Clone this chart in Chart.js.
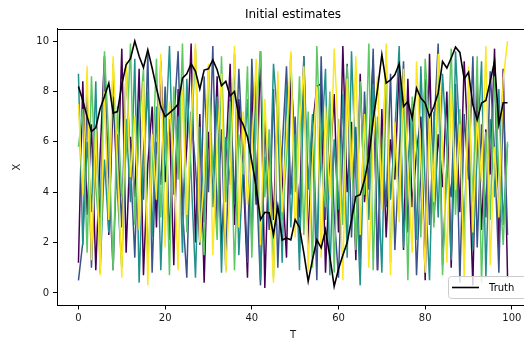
<!DOCTYPE html>
<html lang="en">
<head>
    <meta charset="UTF-8">
    <title>Initial estimates</title>
    <style>
        body {
            margin: 0;
            overflow: hidden;
            background-color: #ffffff;
        }
        #estChart {
            display: block;
        }
    </style>
</head>
<body>
    <canvas id="estChart" width="586" height="345"></canvas>

    <script src="https://cdn.jsdelivr.net/npm/chart.js"></script>
    <script>
        // Data: the true trajectory and five initial estimates, one value per step T
        const truth = [
            8.2, 7.64, 7.0, 6.41, 6.57, 7.31, 7.8, 8.33, 7.14, 7.2,
            8.27, 9.06, 9.3, 10.0, 9.4, 8.95, 9.65, 8.93, 8.13, 7.4,
            7.0, 7.15, 7.3, 7.5, 8.53, 8.7, 9.1, 8.8, 8.1, 8.85,
            8.9, 9.25, 8.86, 8.23, 8.4, 7.82, 8.0, 7.0, 6.68, 6.19,
            5.22, 4.2, 2.91, 3.2, 3.18, 2.31, 3.44, 2.1, 2.18, 2.11,
            2.91, 2.6, 1.59, 0.46, 1.32, 2.11, 1.79, 2.51, 1.45, 0.26,
            0.95, 1.5, 2.0, 2.91, 3.83, 3.9, 4.48, 5.36, 6.88, 8.07,
            9.46, 8.33, 8.46, 8.66, 9.1, 7.4, 7.6, 6.94, 8.13, 7.74,
            7.54, 7.0, 7.4, 7.94, 9.19, 8.93, 9.33, 9.76, 9.55, 8.5,
            8.76, 7.47, 6.87, 7.54, 7.64, 8.4, 9.2, 6.7, 7.55, 7.55
        ];
        const estPurple = [
            1.2, 8.4, 3.1, 6.7, 0.9, 5.5, 9.4, 2.3, 7.8, 4.1,
            9.7, 1.6, 6.2, 3.8, 8.9, 0.7, 5.1, 7.4, 2.6, 9.2,
            4.4, 6.9, 1.1, 8.1, 3.3, 5.8, 9.9, 2.0, 7.1, 0.4,
            6.4, 3.9, 8.6, 1.8, 5.3, 9.1, 2.7, 7.7, 4.8, 0.6,
            8.3, 3.5, 9.6, 0.2, 6.0, 2.9, 7.5, 4.6, 1.4, 8.8,
            5.7, 3.0, 9.4, 1.9, 6.6, 8.2, 8.3, 0.8, 5.0, 7.9,
            2.4, 9.8, 4.0, 6.8, 1.3, 8.7, 3.6, 5.9, 9.3, 0.9,
            7.3, 2.2, 6.1, 4.5, 9.0, 1.7, 8.5, 3.4, 5.6, 7.0,
            0.5, 9.5, 2.8, 6.3, 4.2, 8.0, 1.0, 7.6, 3.2, 9.2,
            5.4, 0.3, 8.4, 2.5, 6.5, 4.7, 9.7, 1.5, 8.9, 0.6
        ];
        const estBlue = [
            0.5, 2.0, 7.9, 1.0, 5.8, 3.0, 8.8, 4.6, 0.9, 6.3,
            2.6, 9.0, 5.2, 1.4, 7.6, 3.7, 9.5, 0.8, 6.0, 4.3,
            8.2, 2.1, 6.8, 9.6, 3.3, 0.6, 7.2, 5.0, 1.9, 8.6,
            4.0, 9.8, 2.8, 6.5, 0.9, 7.9, 3.5, 8.9, 5.4, 1.2,
            9.3, 4.8, 0.3, 6.9, 2.5, 8.1, 1.0, 5.7, 9.0, 3.9,
            7.0, 1.6, 8.4, 4.4, 6.2, 0.5, 9.4, 2.9, 7.5, 3.1,
            0.6, 5.9, 9.1, 2.2, 6.6, 1.3, 8.0, 4.1, 9.7, 0.9,
            6.1, 3.4, 8.7, 1.7, 5.5, 9.2, 2.4, 7.3, 0.7, 4.9,
            8.5, 2.7, 6.4, 9.9, 1.1, 5.1, 3.8, 8.3, 0.4, 7.1,
            4.5, 9.4, 1.8, 6.7, 3.0, 8.8, 5.6, 0.8, 7.8, 2.3
        ];
        const estTeal = [
            8.7, 1.9, 6.0, 3.2, 8.4, 0.8, 5.3, 2.4, 9.1, 4.0,
            1.0, 6.9, 3.6, 9.3, 0.4, 5.6, 8.0, 2.2, 7.4, 0.9,
            5.9, 9.8, 3.9, 7.0, 1.6, 8.5, 4.7, 0.6, 6.6, 2.8,
            9.0, 3.4, 7.8, 0.8, 6.2, 4.3, 9.5, 1.5, 5.0, 7.7,
            2.0, 8.8, 0.5, 5.4, 3.1, 9.1, 6.8, 1.2, 8.2, 2.6,
            6.3, 0.9, 9.4, 4.1, 7.1, 2.0, 5.7, 8.9, 0.7, 6.1,
            3.3, 7.9, 1.4, 9.6, 4.6, 0.3, 6.7, 2.9, 8.3, 5.2,
            0.8, 8.6, 3.7, 6.4, 9.8, 1.8, 5.1, 7.5, 2.1, 9.0,
            4.2, 0.5, 7.2, 3.0, 8.7, 5.8, 1.3, 9.6, 6.0, 2.5,
            7.6, 1.7, 5.5, 9.2, 0.6, 6.9, 3.8, 8.1, 2.7, 5.9
        ];
        const estGreen = [
            5.8, 7.3, 1.6, 8.6, 4.2, 2.0, 9.6, 6.1, 0.9, 7.4,
            3.8, 5.5, 9.9, 2.7, 6.7, 8.9, 1.1, 4.9, 9.3, 3.0,
            7.1, 0.7, 8.2, 4.5, 9.9, 2.4, 6.0, 9.7, 3.3, 1.5,
            8.4, 5.0, 2.1, 9.4, 3.6, 7.6, 0.9, 6.3, 4.7, 9.0,
            1.4, 7.0, 9.6, 3.8, 6.5, 0.6, 8.3, 2.9, 5.3, 9.5,
            4.0, 8.6, 2.3, 7.2, 1.0, 9.8, 5.2, 3.4, 8.0, 0.8,
            6.9, 2.7, 9.0, 5.6, 1.7, 8.4, 3.9, 9.9, 0.9, 7.0,
            4.4, 9.6, 1.2, 6.2, 3.5, 8.1, 0.5, 7.8, 5.9, 2.2,
            9.3, 6.6, 2.6, 8.8, 0.7, 5.0, 9.7, 3.1, 7.3, 1.4,
            8.0, 3.6, 9.4, 0.4, 6.4, 2.9, 8.6, 4.8, 1.9, 6.0
        ];
        const estYellow = [
            7.5, 3.9, 9.0, 1.3, 6.5, 0.7, 8.0, 2.9, 9.4, 5.1,
            0.6, 9.2, 4.6, 7.0, 2.5, 8.4, 0.3, 6.3, 3.7, 9.5,
            1.8, 7.6, 5.2, 0.9, 8.1, 3.1, 6.9, 9.9, 2.0, 4.8,
            9.1, 1.5, 6.0, 8.7, 0.8, 4.3, 9.8, 2.6, 7.2, 3.5,
            5.6, 9.3, 1.9, 7.7, 4.0, 0.4, 8.8, 3.2, 6.1, 9.6,
            2.2, 6.6, 9.0, 0.9, 5.4, 8.2, 1.4, 7.4, 3.8, 9.7,
            6.2, 0.5, 8.5, 4.5, 9.4, 2.3, 7.1, 1.0, 5.9, 8.6,
            3.3, 9.9, 0.7, 6.8, 2.8, 8.9, 4.9, 1.6, 9.2, 5.3,
            0.8, 7.3, 3.6, 9.5, 5.7, 1.2, 8.1, 4.1, 6.7, 0.5,
            9.0, 2.4, 7.0, 4.4, 9.8, 1.1, 5.8, 3.0, 8.5, 10.0
        ];
        const T = truth.map((_, i) => i);
        const xTicks = [0, 20, 40, 60, 80, 100];
        const yTicks = [0, 2, 4, 6, 8, 10];

        // viridis colours, dark to light; yellow ends up drawn on top
        const estimates = [
            { data: estYellow, color: '#fde725' },
            { data: estGreen, color: '#5ec962' },
            { data: estTeal, color: '#21918c' },
            { data: estBlue, color: '#3b528b' },
            { data: estPurple, color: '#440154' }
        ];

        const toPoints = arr => arr.map((v, i) => ({ x: T[i], y: v }));

        const datasets = [{
            label: 'Truth',
            data: toPoints(truth),
            borderColor: '#000000',
            borderWidth: 1.6
        }].concat(estimates.map(e => ({
            label: '',
            data: toPoints(e.data),
            borderColor: e.color,
            borderWidth: 1.5
        })));

        const FONT = 'DejaVu Sans';

        // top spine, plot title and the small "Truth" legend box
        const frame = {
            id: 'frame',
            afterDraw(chart) {
                const ctx = chart.ctx;
                const a = chart.chartArea;
                const top = Math.round(a.top) + 0.5;
                ctx.save();
                ctx.strokeStyle = '#000';
                ctx.lineWidth = 1;
                ctx.beginPath();
                ctx.moveTo(a.left, top);
                ctx.lineTo(a.right, top);
                ctx.stroke();

                ctx.fillStyle = '#000';
                ctx.font = '12px "' + FONT + '"';
                ctx.textAlign = 'center';
                ctx.textBaseline = 'middle';
                ctx.fillText('Initial estimates', (a.left + a.right) / 2, 14.5);

                // legend
                const bx = 448.5, by = 276.5, bw = 80, bh = 22;
                ctx.fillStyle = 'rgba(255,255,255,0.8)';
                ctx.strokeStyle = '#cccccc';
                ctx.beginPath();
                ctx.roundRect(bx, by, bw, bh, 3);
                ctx.fill();
                ctx.stroke();
                ctx.strokeStyle = '#000';
                ctx.lineWidth = 1.6;
                ctx.beginPath();
                ctx.moveTo(452, 287.5);
                ctx.lineTo(479, 287.5);
                ctx.stroke();
                ctx.fillStyle = '#000';
                ctx.font = '10px "' + FONT + '"';
                ctx.textAlign = 'left';
                ctx.fillText(chart.data.datasets[0].label, 489, 288);
                ctx.restore();
            }
        };

        new Chart(document.getElementById('estChart'), {
            type: 'line',
            data: { datasets: datasets },
            plugins: [frame],
            options: {
                responsive: false,
                animation: false,
                layout: { padding: { top: 28.5, right: 57, left: 0, bottom: 0 } },
                elements: {
                    point: { radius: 0 },
                    line: { tension: 0 }
                },
                plugins: {
                    legend: { display: false },
                    tooltip: { enabled: false },
                    title: { display: false }
                },
                scales: {
                    x: {
                        type: 'linear',
                        min: -4.95,
                        max: 103.95,
                        afterBuildTicks: s => { s.ticks = xTicks.map(v => ({ value: v })); },
                        afterFit: s => { s.height = 39.5; },
                        grid: { drawOnChartArea: false, drawTicks: true, tickLength: 4, color: '#000' },
                        border: { display: true, color: '#000', width: 1 },
                        ticks: { color: '#1a1a1a', font: { family: FONT, size: 10 }, padding: 3, maxRotation: 0 },
                        title: { display: true, text: 'T', color: '#1a1a1a', font: { family: FONT, size: 10 }, padding: { top: 0, bottom: 4 } }
                    },
                    y: {
                        min: -0.5,
                        max: 10.5,
                        afterBuildTicks: s => { s.ticks = yTicks.map(v => ({ value: v })); },
                        afterFit: s => { s.width = 57; },
                        grid: { drawOnChartArea: false, drawTicks: true, tickLength: 4, color: '#000' },
                        border: { display: true, color: '#000', width: 1 },
                        ticks: { color: '#1a1a1a', font: { family: FONT, size: 10 }, padding: 4 },
                        title: { display: true, text: 'X', color: '#1a1a1a', font: { family: FONT, size: 10 }, padding: { top: 11, bottom: 11 } }
                    }
                }
            }
        });
    </script>
</body>
</html>
